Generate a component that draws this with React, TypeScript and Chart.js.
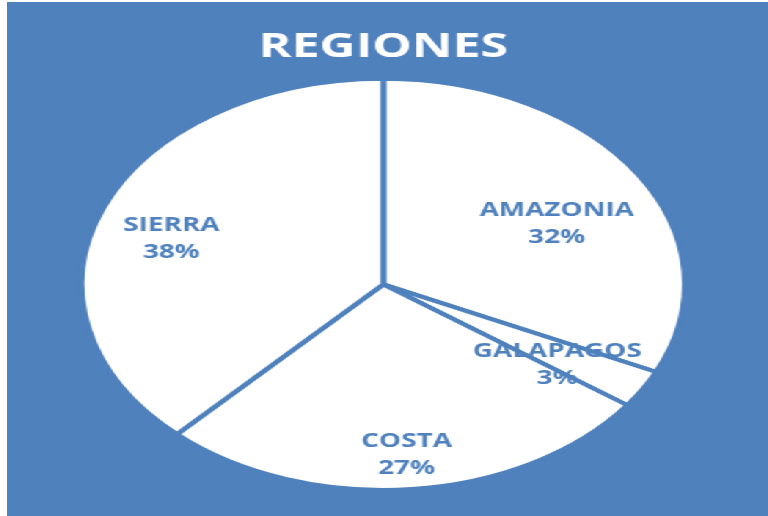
import React, { useEffect, useRef } from "react";
import { Chart, registerables } from "chart.js";

Chart.register(...registerables);

const title = "REGIONES";
const categories = ["AMAZONIA", "GALAPAGOS", "COSTA", "SIERRA"];
const values = [32, 3, 27, 38];

const BLUE = "#4F81BD";
const STRETCH = 1.467;
const W = 519;
const H = 514;
// label placement inside each slice: [fraction along the slice angle, fraction of radius]
const labelPlacement = [
  [0.54, 0.65],
  [0.75, 0.69],
  [0.5, 0.82],
  [0.476, 0.74],
];

const total = values.reduce((a, b) => a + b, 0);
const percentLabels = values.map((v) => Math.round((v / total) * 100) + "%");

const labelPlugin = {
  id: "sliceLabels",
  afterDatasetsDraw(chart: any) {
    const ctx = chart.ctx;
    const meta = chart.getDatasetMeta(0);
    ctx.save();
    ctx.fillStyle = BLUE;
    ctx.font = "bold 19px 'Open Sans'";
    ctx.textAlign = "center";
    ctx.textBaseline = "middle";
    meta.data.forEach((arc: any, i: number) => {
      const p = arc.getProps(["startAngle", "endAngle", "outerRadius", "x", "y"], true);
      const [af, rf] = labelPlacement[i];
      const a = p.startAngle + (p.endAngle - p.startAngle) * af;
      const r = p.outerRadius * rf;
      const px = p.x + Math.cos(a) * r;
      const py = p.y + Math.sin(a) * r;
      ctx.fillText(categories[i], px, py - 11);
      ctx.fillText(percentLabels[i], px, py + 16);
    });
    ctx.restore();
  },
};

export default function App() {
  const ref = useRef<HTMLCanvasElement>(null);
  useEffect(() => {
    document.body.style.overflow = "hidden";
    const chart = new Chart(ref.current!, {
      type: "pie",
      data: {
        labels: categories,
        datasets: [
          {
            data: values,
            backgroundColor: "#FFFFFF",
            borderColor: BLUE,
            borderWidth: 4,
          },
        ],
      },
      options: {
        responsive: false,
        devicePixelRatio: 1,
        animation: false,
        layout: { padding: { bottom: 24, right: 6 } },
        plugins: {
          legend: { display: false },
          tooltip: { enabled: false },
          title: {
            display: true,
            text: title,
            color: "#FFFFFF",
            font: { family: "'Open Sans'", size: 34, weight: "bold" },
            padding: { top: 25, bottom: 9 },
          },
        },
      },
      plugins: [labelPlugin],
    });
    return () => chart.destroy();
  }, []);
  return (
    <div
      style={{
        position: "absolute",
        left: 7,
        top: 2,
        width: W,
        height: H,
        background: BLUE,
        transform: `scaleX(${STRETCH})`,
        transformOrigin: "0 0",
      }}
    >
      <canvas ref={ref} width={W} height={H} style={{ display: "block" }} />
    </div>
  );
}
